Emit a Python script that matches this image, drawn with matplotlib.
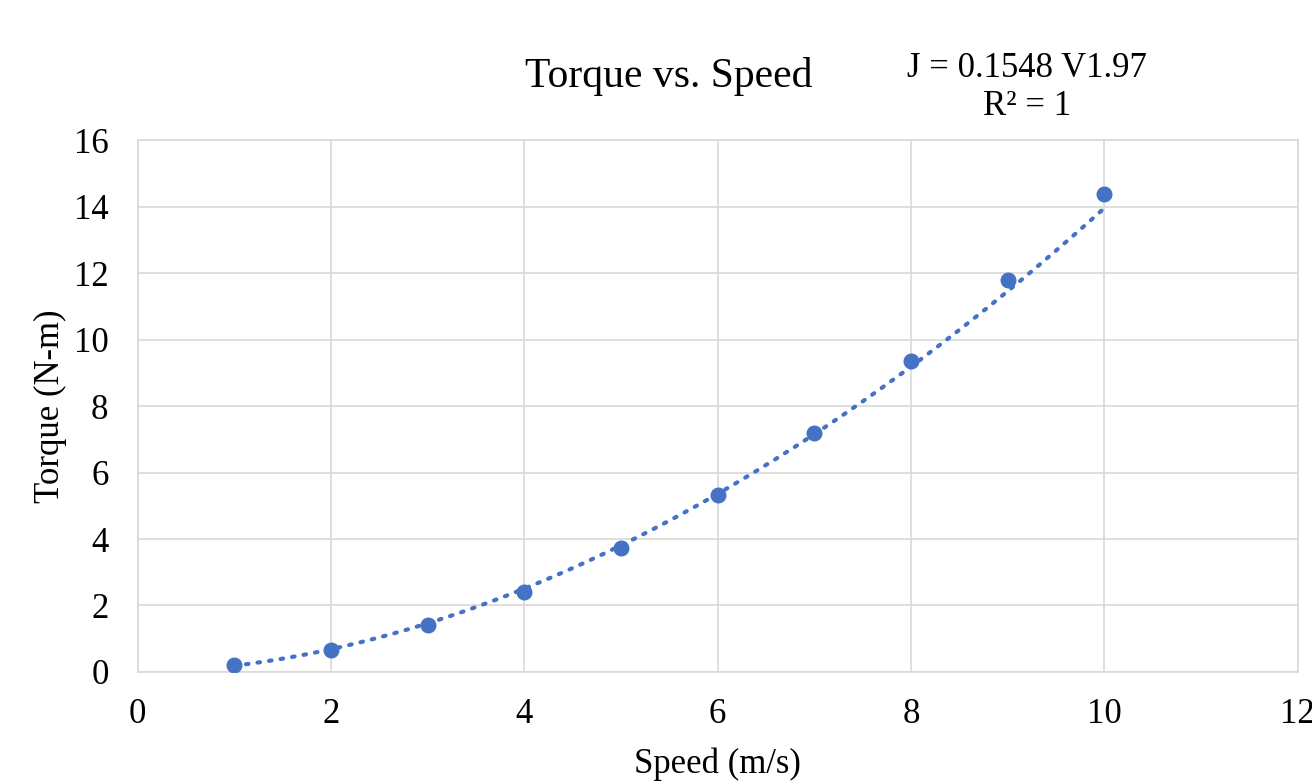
import matplotlib.pyplot as plt
import numpy as np

speed = [1, 2, 3, 4, 5, 6, 7, 8, 9, 10]
torque = [0.20, 0.66, 1.40, 2.40, 3.72, 5.31, 7.20, 9.37, 11.80, 14.38]
x_ticks = [0, 2, 4, 6, 8, 10, 12]
y_ticks = [0, 2, 4, 6, 8, 10, 12, 14, 16]

BLUE = '#4472C4'
GRID = '#d9d9d9'

plt.rcParams['font.family'] = ['Liberation Serif', 'DejaVu Serif']

fig = plt.figure(figsize=(13.12, 7.84), dpi=100)
ax = fig.add_axes([0.105, 0.143, 0.884, 0.678])

# power trendline fitted from the points (log-log)
b, a = np.polyfit(np.log(speed), np.log(torque), 1)
xs = np.linspace(speed[0], speed[-1], 200)
ax.plot(xs, np.exp(a) * xs ** b, color=BLUE, lw=3, ls=(0, (0.6, 2.2)),
        dash_capstyle='round', zorder=2)
ax.plot(speed, torque, 'o', color=BLUE, ms=10.5, zorder=3)

ax.set_xlim(0, 12)
ax.set_ylim(0, 16)
ax.set_xticks(x_ticks)
ax.set_yticks(y_ticks)
ax.tick_params(length=0, labelsize=25)
ax.tick_params(axis='x', pad=19)
ax.tick_params(axis='y', pad=21)
ax.grid(True, color=GRID, lw=1.2)
ax.set_axisbelow(True)
for s in ax.spines.values():
    s.set_color(GRID)
    s.set_linewidth(1.2)

ax.set_xlabel('Speed (m/s)', fontsize=25, labelpad=12)
ax.set_ylabel('Torque (N-m)', fontsize=25, labelpad=5)

fig.text(0.51, 0.902, 'Torque vs. Speed', fontsize=30, ha='center', va='center')
fig.text(0.783, 0.912, 'J = 0.1548 V1.97', fontsize=25, ha='center', va='center')
fig.text(0.783, 0.864, 'R² = 1', fontsize=25, ha='center', va='center')

fig.savefig('out.png', dpi=100)
